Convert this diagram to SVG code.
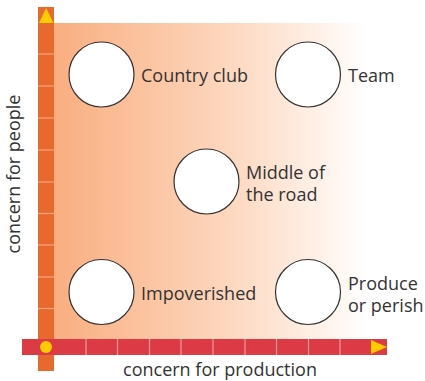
<svg xmlns="http://www.w3.org/2000/svg" width="425" height="381" viewBox="0 0 425 381">
<style>
.lbl{font-family:"Open Sans","Noto Sans","Liberation Sans",sans-serif;font-size:18px;fill:#333333}
.node circle{fill:#ffffff;stroke:#333333;stroke-width:1.2}
.vt{stroke:#F5A47E;stroke-width:1.2}
.ht{stroke:#F09AA0;stroke-width:1.2}
</style>
<defs>
<linearGradient id="bg" x1="54" y1="0" x2="369" y2="0" gradientUnits="userSpaceOnUse">
<stop offset="0" stop-color="#F9AE80"/>
<stop offset="0.55" stop-color="#FDD7BE"/>
<stop offset="1" stop-color="#FFFFFF"/>
</linearGradient>
</defs>
<rect x="54" y="23" width="315" height="316" fill="url(#bg)"/>
<g id="axes">
<rect x="38" y="7" width="16" height="364" fill="#E8692E"/>
<g class="vt">
<line x1="38" y1="54" x2="54" y2="54"/><line x1="38" y1="86" x2="54" y2="86"/><line x1="38" y1="118" x2="54" y2="118"/><line x1="38" y1="150" x2="54" y2="150"/><line x1="38" y1="182" x2="54" y2="182"/><line x1="38" y1="213.5" x2="54" y2="213.5"/><line x1="38" y1="245" x2="54" y2="245"/><line x1="38" y1="277" x2="54" y2="277"/><line x1="38" y1="308.5" x2="54" y2="308.5"/>
</g>
<polygon points="39,23 53.5,23 46.2,8" fill="#FFCC00"/>
<rect x="22" y="339" width="365" height="16" fill="#DC3A45"/>
<g class="ht">
<line x1="86" y1="339" x2="86" y2="355"/><line x1="117.5" y1="339" x2="117.5" y2="355"/><line x1="149.5" y1="339" x2="149.5" y2="355"/><line x1="181" y1="339" x2="181" y2="355"/><line x1="213" y1="339" x2="213" y2="355"/><line x1="245" y1="339" x2="245" y2="355"/><line x1="276.5" y1="339" x2="276.5" y2="355"/><line x1="308.5" y1="339" x2="308.5" y2="355"/><line x1="340" y1="339" x2="340" y2="355"/>
</g>
<polygon points="371,340 371,354 387,347" fill="#FFCC00"/>
<circle cx="46" cy="347" r="6" fill="#FFCC00"/>
<text class="lbl" x="220" y="376" text-anchor="middle">concern for production</text>
<text class="lbl" transform="translate(20,174) rotate(-90)" text-anchor="middle">concern for people</text>
</g>
<g id="country-club" class="node"><circle cx="101.5" cy="74.5" r="32.5"/><text class="lbl" x="141" y="82">Country club</text></g>
<g id="team" class="node"><circle cx="308" cy="74.5" r="32.5"/><text class="lbl" x="348" y="82">Team</text></g>
<g id="middle" class="node"><circle cx="206.5" cy="181.5" r="32.5"/><text class="lbl" x="246" y="179">Middle of</text><text class="lbl" x="246" y="201">the road</text></g>
<g id="impoverished" class="node"><circle cx="101.5" cy="292" r="32.5"/><text class="lbl" x="141" y="300">Impoverished</text></g>
<g id="produce" class="node"><circle cx="308" cy="292" r="32.5"/><text class="lbl" x="348" y="290">Produce</text><text class="lbl" x="348" y="312">or perish</text></g>
<g id="connectors"></g>
</svg>
